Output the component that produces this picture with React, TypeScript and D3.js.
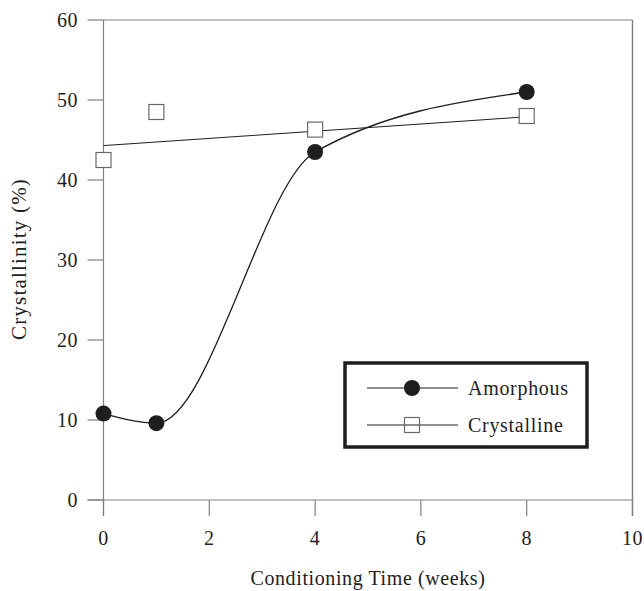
import React from "react";
import * as d3 from "d3";

const weeks = [0, 1, 4, 8];
const amorphous = [10.8, 9.6, 43.5, 51.0];
const crystalline = [42.5, 48.5, 46.3, 48.0];
const crystallineFit = [44.3, 47.9];
const fitX = [0, 8];
const xTicks = [0, 2, 4, 6, 8, 10];
const yTicks = [0, 10, 20, 30, 40, 50, 60];
const seriesNames = ["Amorphous", "Crystalline"];

const W = 644;
const H = 591;
const FONT = "'Liberation Serif', 'Times New Roman', serif";

export default function App() {
  const x = d3.scaleLinear().domain([0, 10]).range([103.5, 632.5]);
  const y = d3.scaleLinear().domain([0, 60]).range([500, 20]);
  const tick = 16;
  const frame = "#808080";
  const ink = "#1e1e1e";

  const amorphLine = d3
    .line<number>()
    .x((_, i) => x(weeks[i]))
    .y((d) => y(d))
    .curve(d3.curveMonotoneX)(amorphous) as string;

  const fitLine = d3
    .line<number>()
    .x((_, i) => x(fitX[i]))
    .y((d) => y(d))(crystallineFit) as string;

  const sq = 15;
  const r = 8;

  const lg = { x: 345, y: 363, w: 242, h: 84 };
  const rowY = [388, 425];

  return (
    <div style={{ position: "fixed", left: 0, top: 0, width: W, height: H, overflow: "hidden" }}>
      <svg width={W} height={H} style={{ display: "block", background: "#fff" }} fontFamily={FONT}>
        {/* frame */}
        <line x1={x(0)} x2={x(10)} y1={y(60)} y2={y(60)} stroke={frame} strokeWidth={1.2} />
        <line x1={x(10)} x2={x(10)} y1={y(60)} y2={y(0) + tick} stroke={frame} strokeWidth={1.4} />
        <line x1={x(0)} x2={x(0)} y1={y(60)} y2={y(0) + tick} stroke={frame} strokeWidth={1.2} />
        <line x1={x(0) - tick} x2={x(10)} y1={y(0)} y2={y(0)} stroke={frame} strokeWidth={1.2} />
        {/* y ticks */}
        {yTicks.map((t) => (
          <g key={"y" + t}>
            <line x1={x(0) - tick} x2={x(0)} y1={y(t)} y2={y(t)} stroke={frame} strokeWidth={1.2} />
            <text x={78} y={y(t)} dy="0.35em" textAnchor="end" fontSize={20} letterSpacing={0.5} fill={ink}>
              {t}
            </text>
          </g>
        ))}
        {/* x ticks */}
        {xTicks.map((t) => (
          <g key={"x" + t}>
            <line x1={x(t)} x2={x(t)} y1={y(0)} y2={y(0) + tick} stroke={frame} strokeWidth={1.2} />
            <text x={x(t)} y={545} textAnchor="middle" fontSize={20} letterSpacing={0.5} fill={ink}>
              {t}
            </text>
          </g>
        ))}
        {/* axis titles */}
        <text x={368} y={585} textAnchor="middle" fontSize={20} letterSpacing={0.6} fill={ink}>
          Conditioning Time (weeks)
        </text>
        <text
          transform={`translate(26,259) rotate(-90)`}
          textAnchor="middle"
          fontSize={21}
          letterSpacing={1.2}
          fill={ink}
        >
          Crystallinity (%)
        </text>

        {/* series lines */}
        <path d={fitLine} fill="none" stroke={ink} strokeWidth={1} />
        <path d={amorphLine} fill="none" stroke={ink} strokeWidth={1.3} />

        {/* crystalline markers */}
        {crystalline.map((v, i) => (
          <rect
            key={"c" + i}
            x={x(weeks[i]) - sq / 2}
            y={y(v) - sq / 2}
            width={sq}
            height={sq}
            fill="#fff"
            stroke="#6a6a6a"
            strokeWidth={1.2}
          />
        ))}
        {/* amorphous markers */}
        {amorphous.map((v, i) => (
          <circle key={"a" + i} cx={x(weeks[i])} cy={y(v)} r={r} fill={ink} />
        ))}

        {/* legend */}
        <rect x={lg.x} y={lg.y} width={lg.w} height={lg.h} fill="#fff" stroke={ink} strokeWidth={3.5} />
        <line x1={367} x2={458} y1={rowY[0]} y2={rowY[0]} stroke={ink} strokeWidth={1} />
        <circle cx={412} cy={rowY[0]} r={r} fill={ink} />
        <text x={468} y={rowY[0]} dy="0.35em" fontSize={20} letterSpacing={0.7} fill={ink}>
          {seriesNames[0]}
        </text>
        <line x1={367} x2={458} y1={rowY[1]} y2={rowY[1]} stroke={ink} strokeWidth={1} />
        <rect x={412 - sq / 2} y={rowY[1] - sq / 2} width={sq} height={sq} fill="none" stroke="#6a6a6a" strokeWidth={1.2} />
        <text x={468} y={rowY[1]} dy="0.35em" fontSize={20} letterSpacing={0.7} fill={ink}>
          {seriesNames[1]}
        </text>
      </svg>
    </div>
  );
}
